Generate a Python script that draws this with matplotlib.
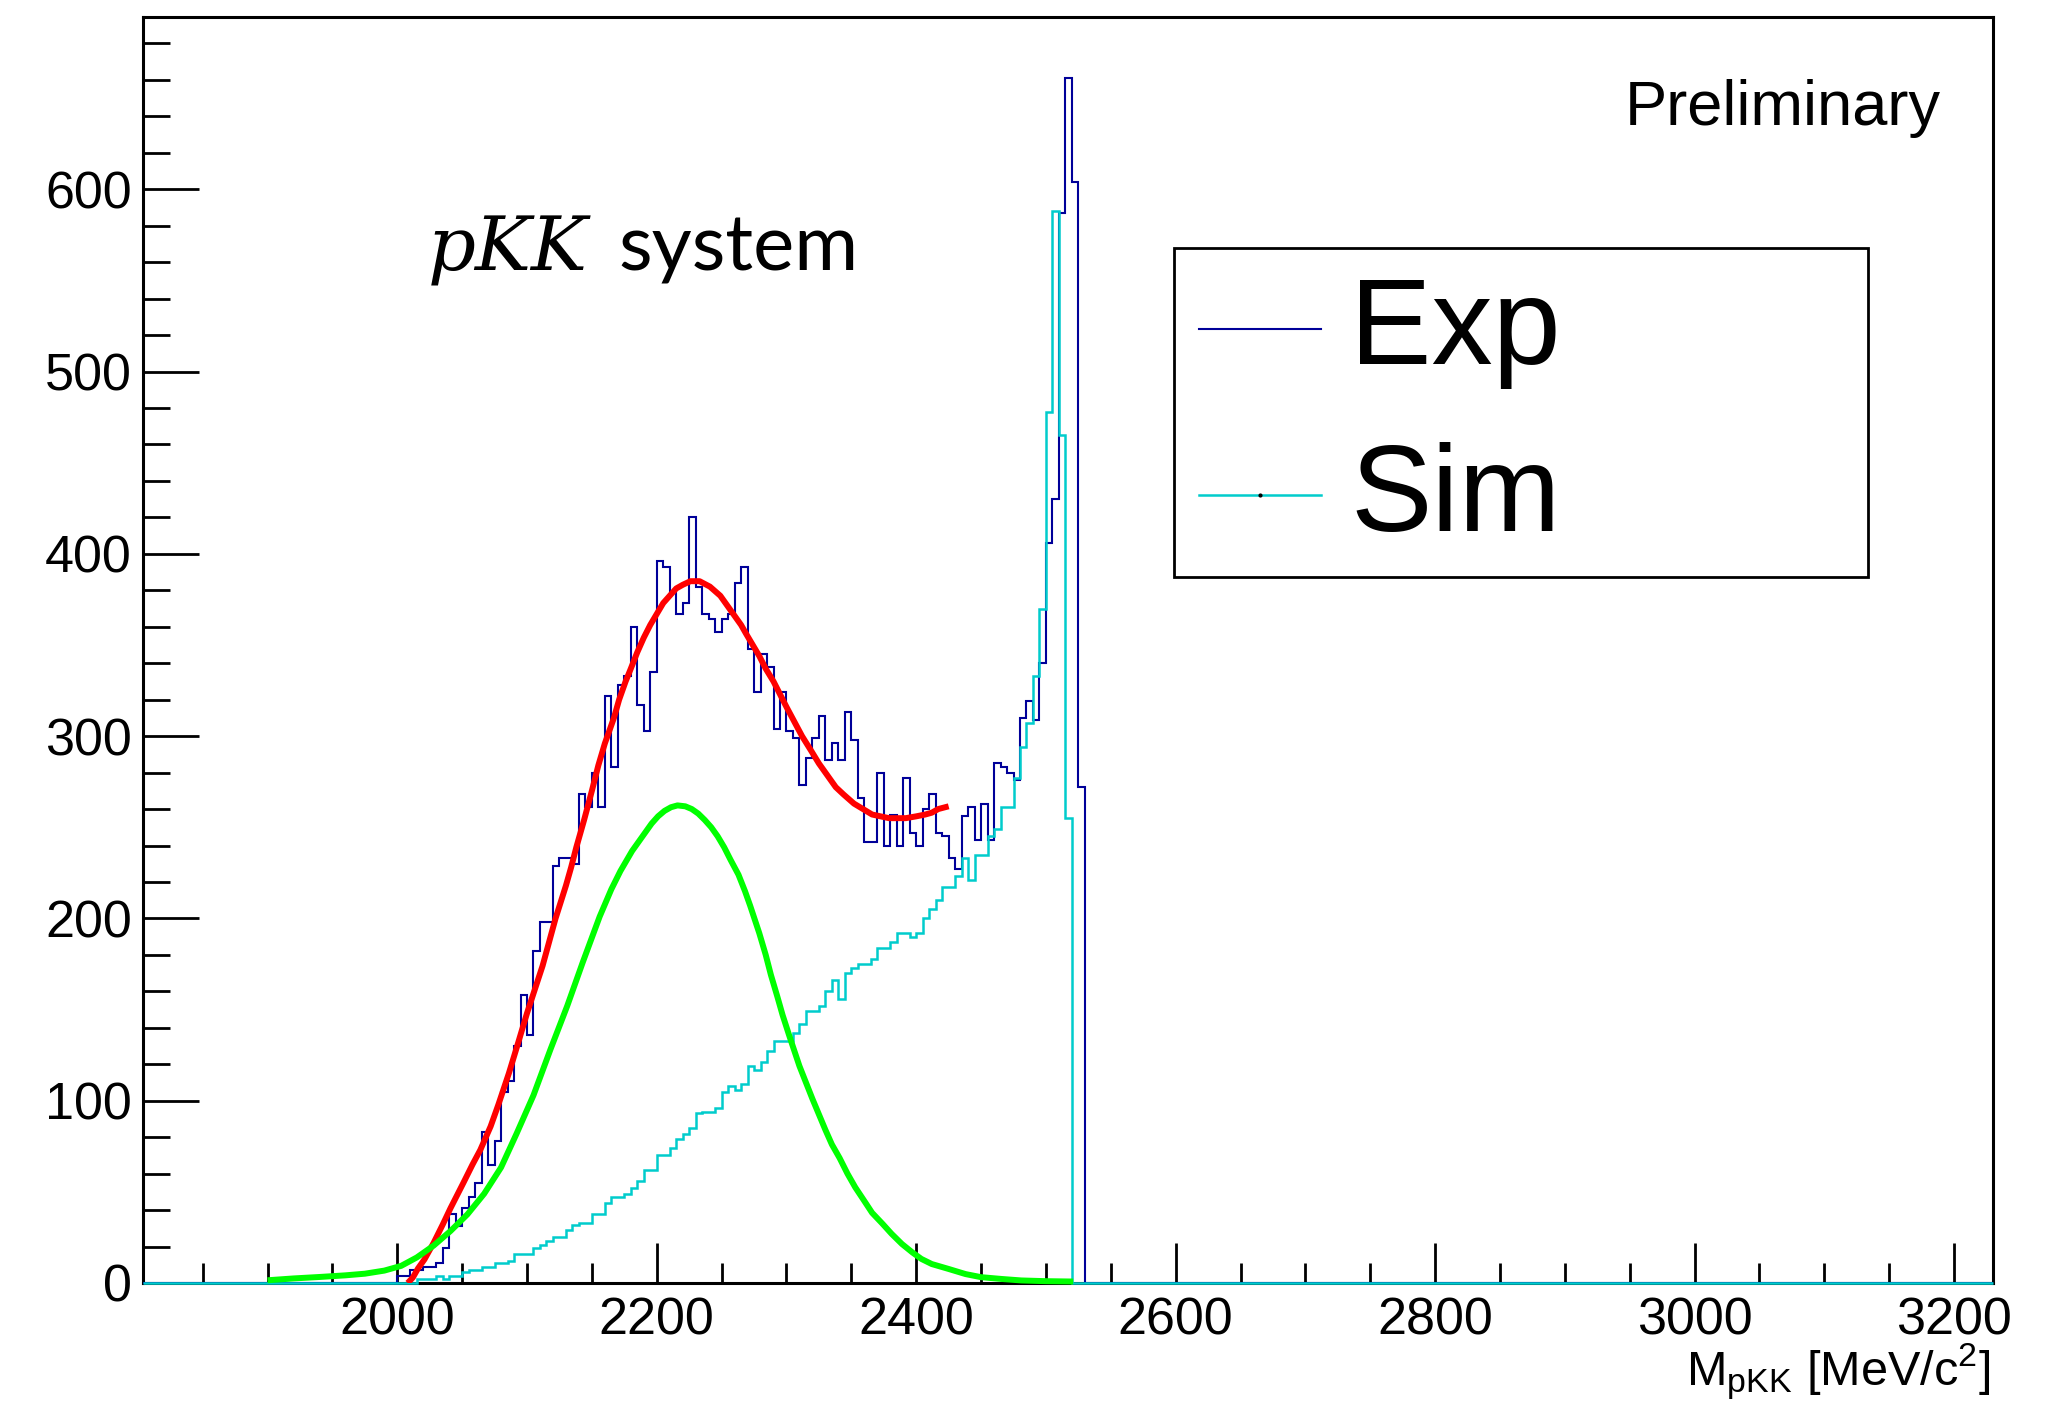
import numpy as np
import matplotlib
matplotlib.use('Agg')
import matplotlib.pyplot as plt
from matplotlib.ticker import MultipleLocator
from matplotlib.patches import Rectangle
from matplotlib.lines import Line2D

# histogram binning (MeV)
bin_width = 5
x_min, x_max = 1804, 3230
y_max = 694.5

# experimental pKK spectrum, first bin starts at 2000 MeV
exp_start = 2000
exp_counts = [4, 4, 7, 7, 9, 9, 11, 19, 38, 31,
              41, 47, 55, 83, 65, 78, 105, 111, 130, 158,
              136, 182, 198, 198, 229, 233, 233, 230, 268, 261,
              280, 261, 322, 283, 328, 333, 360, 317, 303, 335,
              396, 393, 379, 367, 373, 420, 382, 367, 364, 357,
              364, 367, 384, 393, 348, 324, 345, 338, 304, 324,
              303, 299, 273, 288, 299, 311, 287, 296, 287, 313,
              298, 266, 242, 242, 280, 240, 257, 240, 277, 247,
              240, 260, 268, 247, 245, 233, 227, 256, 261, 243,
              263, 243, 285, 283, 280, 276, 310, 319, 309, 340,
              406, 430, 587, 661, 604, 272]

# simulated spectrum, first bin starts at 2015 MeV
sim_start = 2015
sim_counts = [2, 2, 2, 4, 2, 4, 4, 6, 7, 7,
              9, 9, 11, 11, 12, 16, 16, 16, 19, 21,
              23, 25, 25, 29, 32, 33, 33, 38, 38, 44,
              47, 47, 49, 52, 56, 62, 62, 70, 70, 74,
              79, 82, 85, 93, 94, 94, 96, 105, 108, 106,
              109, 119, 117, 121, 127, 133, 133, 133, 137, 142,
              149, 149, 152, 160, 166, 156, 170, 173, 175, 175,
              178, 184, 184, 187, 192, 192, 190, 192, 200, 205,
              210, 217, 217, 223, 233, 221, 235, 235, 245, 249,
              261, 261, 277, 294, 307, 333, 370, 478, 588, 465,
              255]

# total fit (red)
fit_x = [2008, 2012, 2016, 2021, 2028, 2035, 2041, 2051, 2058, 2064, 2072, 2078,
         2086, 2092, 2100, 2106, 2112, 2117, 2122, 2130, 2134, 2138, 2144, 2150,
         2155, 2160, 2167, 2171, 2176, 2180, 2185, 2190, 2195, 2200, 2205, 2210,
         2215, 2220, 2226, 2233, 2241, 2249, 2254, 2259, 2265, 2269, 2274, 2279,
         2284, 2290, 2295, 2300, 2306, 2312, 2319, 2325, 2332, 2338, 2344, 2352,
         2359, 2366, 2379, 2392, 2400, 2407, 2412, 2417, 2425]
fit_y = [0, 3, 8, 13, 22, 32, 41, 55, 65, 73, 86, 98,
         115, 129, 148, 161, 174, 187, 200, 218, 228, 239, 254, 270,
         284, 296, 310, 320, 330, 337, 346, 354, 361, 367, 373, 377,
         381, 383, 385, 385, 382, 377, 372, 367, 361, 356, 350, 344,
         337, 330, 323, 316, 308, 300, 292, 285, 278, 272, 268, 263,
         260, 257, 255, 255, 256, 257, 258, 260, 261.5]

# signal component (green)
sig_x = [1900, 1920, 1940, 1960, 1975, 1990, 2003, 2015, 2028, 2041, 2054, 2067,
         2080, 2092, 2105, 2118, 2131, 2143, 2156, 2165, 2172, 2181, 2186, 2191,
         2196, 2201, 2206, 2211, 2216, 2222, 2227, 2232, 2237, 2242, 2247, 2252,
         2257, 2263, 2268, 2272, 2279, 2284, 2288, 2293, 2297, 2302, 2306, 2310,
         2315, 2320, 2325, 2330, 2335, 2341, 2347, 2353, 2360, 2366, 2374, 2381,
         2389, 2397, 2404, 2412, 2425, 2438, 2450, 2466, 2481, 2500, 2521]
sig_y = [1.5, 2.5, 3.3, 4.2, 5.1, 6.8, 9.4, 14, 20.5, 28.5, 37.6, 49,
         63.4, 82, 103, 128, 152, 176, 201, 216, 226, 237, 242, 247,
         252, 256, 259, 261, 262, 261.5, 260, 257.5, 254, 250, 245, 239,
         232, 224, 215, 207, 192, 180, 169, 157, 147, 136, 127.5, 119,
         110, 101, 92.5, 84, 76, 68.5, 60, 52.5, 45, 38.5, 32.5, 27,
         21.4, 16.8, 13.2, 10.4, 7.7, 4.9, 3.2, 2.2, 1.4, 1.0, 0.8]

exp_color = '#000099'
sim_color = '#00cccc'

plt.rcParams['font.family'] = ['Liberation Sans', 'DejaVu Sans']
plt.rcParams['mathtext.fontset'] = 'custom'
plt.rcParams['mathtext.rm'] = 'Liberation Sans'
plt.rcParams['mathtext.it'] = 'Liberation Sans:italic'

W, H = 2055, 1401
fig = plt.figure(figsize=(W / 100, H / 100), dpi=100)
ax = fig.add_axes([143 / W, 118 / H, 1850 / W, 1266 / H])

# histograms, padded with empty bins out to the axis range
exp_edges = exp_start + bin_width * np.arange(len(exp_counts) + 1)
sim_edges = sim_start + bin_width * np.arange(len(sim_counts) + 1)
ax.stairs(np.concatenate([[0], exp_counts, [0]]),
          np.concatenate([[x_min], exp_edges, [x_max]]),
          color=exp_color, lw=1.5, zorder=3, clip_on=False)
ax.stairs(np.concatenate([[0], sim_counts, [0]]),
          np.concatenate([[x_min], sim_edges, [x_max]]),
          color=sim_color, lw=1.8, zorder=3.1, clip_on=False)

ax.plot(fit_x, fit_y, color='#ff0000', lw=4.3, zorder=4, solid_capstyle='butt')
ax.plot(sig_x, sig_y, color='#00ff00', lw=4.3, zorder=5, solid_capstyle='butt', clip_on=False)

ax.set_xlim(x_min, x_max)
ax.set_ylim(0, y_max)
ax.xaxis.set_major_locator(MultipleLocator(200))
ax.xaxis.set_minor_locator(MultipleLocator(50))
ax.yaxis.set_major_locator(MultipleLocator(100))
ax.yaxis.set_minor_locator(MultipleLocator(20))
ax.tick_params(which='both', direction='in', width=2, labelsize=37.5, colors='black')
ax.tick_params(axis='y', which='major', length=40, pad=8)
ax.tick_params(axis='y', which='minor', length=19.5)
ax.tick_params(axis='x', which='major', length=29, pad=10)
ax.tick_params(axis='x', which='minor', length=14.5)
for s in ax.spines.values():
    s.set_linewidth(2.2)

fig.text(1990 / W, 16 / H, r'M$_{\mathrm{pKK}}$ [MeV/c$^{2}$]', ha='right', va='baseline', fontsize=35)
fig.text(1625 / W, (H - 124.5) / H, 'Preliminary', ha='left', va='baseline', fontsize=45.5)
fig.text(428 / W, (H - 271) / H, 'pKK', family='DejaVu Serif', style='italic',
         ha='left', va='baseline', fontsize=54)
fig.text(618.6 / W, (H - 271) / H, 'system', family=['Lato', 'DejaVu Sans'],
         ha='left', va='baseline', fontsize=56)

# legend box drawn by hand (ROOT style)
fig.add_artist(Rectangle((1174 / W, (H - 577) / H), (1868 - 1174) / W, (577 - 248) / H,
                         transform=fig.transFigure, fill=False, ec='black', lw=2))
fig.add_artist(Line2D([1199 / W, 1321 / W], [(H - 329) / H] * 2, transform=fig.transFigure,
                      color=exp_color, lw=1.5))
fig.add_artist(Line2D([1199 / W, 1321 / W], [(H - 495) / H] * 2, transform=fig.transFigure,
                      color=sim_color, lw=1.8))
fig.add_artist(Line2D([1260 / W], [(H - 495) / H], transform=fig.transFigure,
                      marker='o', ms=2, color='black', lw=0))
fig.text(1350 / W, (H - 364) / H, 'Exp', ha='left', va='baseline', fontsize=88)
fig.text(1350 / W, (H - 531) / H, 'Sim', ha='left', va='baseline', fontsize=88)

fig.savefig('out.png', dpi=100)
